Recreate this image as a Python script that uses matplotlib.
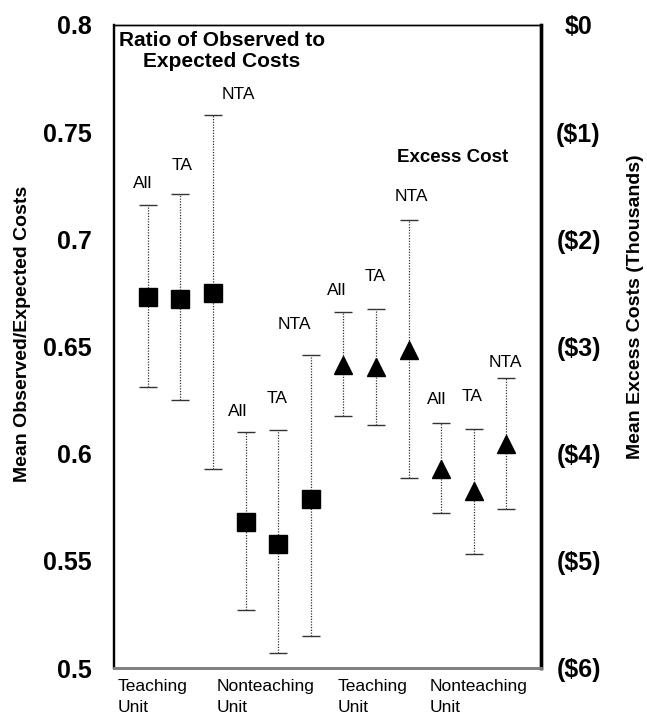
import matplotlib
matplotlib.use("Agg")
import matplotlib.pyplot as plt
import matplotlib.transforms as mtransforms

plt.rcParams['font.family'] = ['Liberation Sans', 'DejaVu Sans']

# ---- data ----
point_labels = ["All", "TA", "NTA", "All", "TA", "NTA"]
group_labels = ["Teaching\nUnit", "Nonteaching\nUnit", "Teaching\nUnit", "Nonteaching\nUnit"]

ratio_mean = [0.673, 0.672, 0.675, 0.568, 0.558, 0.579]
ratio_low = [0.631, 0.625, 0.593, 0.527, 0.507, 0.515]
ratio_high = [0.716, 0.721, 0.758, 0.610, 0.611, 0.646]

# excess cost in thousands of dollars (negative = savings)
excess_mean = [-3.17, -3.19, -3.03, -4.14, -4.35, -3.91]
excess_high = [-2.68, -2.65, -1.82, -3.71, -3.77, -3.29]
excess_low = [-3.65, -3.73, -4.23, -4.55, -4.94, -4.52]

left_ticks = [0.5, 0.55, 0.6, 0.65, 0.7, 0.75, 0.8]
left_ticklabels = ["0.5", "0.55", "0.6", "0.65", "0.7", "0.75", "0.8"]
right_ticks = [-6, -5, -4, -3, -2, -1, 0]
right_ticklabels = ["($6)", "($5)", "($4)", "($3)", "($2)", "($1)", "$0"]

# ---- layout / style ----
W, H = 647, 720
fig = plt.figure(figsize=(W / 100, H / 100), dpi=100)
ax_l, ax_r, ax_t, ax_b = 114, 541, 25, 668
ax = fig.add_axes([ax_l / W, 1 - ax_b / H, (ax_r - ax_l) / W, (ax_b - ax_t) / H])
ax2 = ax.twinx()

xs_sq = list(range(0, 6))
xs_tri = list(range(6, 12))
ax.set_xlim(-1.04, 12.06)
ax.set_ylim(0.5, 0.8)
ax2.set_ylim(-6, 0)


def draw(axis, xs, mean, low, high, marker, ms):
    yerr = [[m - l for m, l in zip(mean, low)], [h - m for m, h in zip(mean, high)]]
    eb = axis.errorbar(xs, mean, yerr=yerr, fmt='none', ecolor='#333333',
                       elinewidth=0.9, capsize=6.5, capthick=1.0, zorder=2)
    for c in eb[1]:
        c.set_color('#8a8a8a')
    for lc in eb[2]:
        lc.set_linestyle((0, (1, 1.2)))
    axis.plot(xs, mean, linestyle='none', marker=marker, markersize=ms,
              color='black', zorder=3)


draw(ax, xs_sq, ratio_mean, ratio_low, ratio_high, 's', 13.5)
draw(ax2, xs_tri, excess_mean, excess_low, excess_high, '^', 12.5)

# point labels above upper caps (offsets in pixels)
sq_dy = [22, 29, 21, 21, 32, 31]
sq_dx = [-5, 2, 25, -8, -1, -17]
tri_dy = [22, 32, 24, 23, 33, 15]
tri_dx = [-7, -1, 3, -5, -2, -1]
for axis, xs, high, dxs, dys in [(ax, xs_sq, ratio_high, sq_dx, sq_dy),
                                 (ax2, xs_tri, excess_high, tri_dx, tri_dy)]:
    for x, h, lab, dx, dy in zip(xs, high, point_labels, dxs, dys):
        axis.annotate(lab, (x, h), xytext=(dx * 0.72, dy * 0.72), textcoords='offset points',
                      ha='center', va='center', fontsize=12.5, zorder=4)

# ticks
ax.set_yticks(left_ticks)
ax.set_yticklabels(left_ticklabels, fontsize=18, fontweight='bold')
ax.tick_params(axis='y', length=0, pad=16)
ax.set_xticks([])
ax2.set_yticks(right_ticks)
ax2.set_yticklabels(right_ticklabels, fontsize=18, fontweight='bold')
ax2.tick_params(axis='y', length=0, pad=27)
for t in ax2.get_yticklabels():
    t.set_horizontalalignment('center')

# spines
for a in (ax, ax2):
    a.spines['top'].set_linewidth(1.0)
    a.spines['left'].set_linewidth(1.6)
    a.spines['right'].set_linewidth(2.4)
    a.spines['bottom'].set_linewidth(2.0)
    a.spines['bottom'].set_color('#808080')

# group labels under the axis
trans = mtransforms.blended_transform_factory(ax.transData, fig.transFigure)
group_x = [-0.92, 2.12, 5.83, 8.65]
for gx, g in zip(group_x, group_labels):
    ax.text(gx, 1 - 697 / H, g, transform=trans, ha='left', va='center',
            fontsize=12.5, linespacing=1.55, clip_on=False)

# in-plot titles
ax.text((222 - ax_l) / (ax_r - ax_l), 1 - (51 - ax_t) / (ax_b - ax_t),
        "Ratio of Observed to\nExpected Costs", transform=ax.transAxes,
        ha='center', va='center', fontsize=15, fontweight='bold', linespacing=1.12)
ax.text((453 - ax_l) / (ax_r - ax_l), 1 - (157 - ax_t) / (ax_b - ax_t),
        "Excess Cost", transform=ax.transAxes,
        ha='center', va='center', fontsize=13.5, fontweight='bold')

# axis titles
fig.text(23 / W, 1 - 334 / H, "Mean Observed/Expected Costs", rotation=90,
         ha='center', va='center', fontsize=14, fontweight='bold')
fig.text(636 / W, 1 - 307 / H, "Mean Excess Costs (Thousands)", rotation=90,
         ha='center', va='center', fontsize=14, fontweight='bold')

fig.savefig("out.png", dpi=100)
